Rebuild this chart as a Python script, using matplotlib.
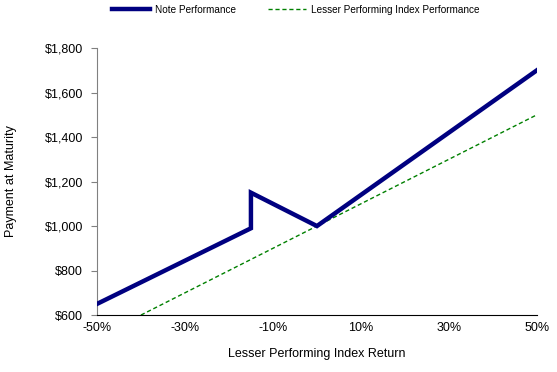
import matplotlib.pyplot as plt
from matplotlib.ticker import FuncFormatter

plt.rcParams['font.family'] = ['Liberation Sans', 'DejaVu Sans']

# Note performance (index return %, payment $)
note_x = [-50, -15, -15, 0, 50]
note_y = [650, 990, 1150, 1000, 1700]
# Lesser performing index performance
index_x = [-40, 50]
index_y = [600, 1500]

x_ticks = [-50, -30, -10, 10, 30, 50]
y_ticks = [600, 800, 1000, 1200, 1400, 1600, 1800]

fig = plt.figure(figsize=(5.57, 3.72), dpi=100)
ax = fig.add_axes([0.174, 0.153, 0.79, 0.718])

ax.plot(note_x, note_y, color="#000080", lw=3.2, label="Note Performance", solid_joinstyle="miter", zorder=3)
ax.plot(index_x, index_y, color="#008000", lw=1.0, ls=(0, (3, 2)), label="Lesser Performing Index Performance", zorder=2)

ax.set_xlim(-50, 50)
ax.set_ylim(600, 1800)
ax.set_xticks(x_ticks)
ax.set_yticks(y_ticks)
ax.xaxis.set_major_formatter(FuncFormatter(lambda v, p: f"{v:.0f}%"))
ax.yaxis.set_major_formatter(FuncFormatter(lambda v, p: f"${v:,.0f}"))
ax.tick_params(axis="x", length=0, labelsize=9, pad=5)
ax.tick_params(axis="y", length=4, labelsize=9, color="#808080", pad=6)
for s in ("top", "right"):
    ax.spines[s].set_visible(False)
ax.spines["left"].set_color("#808080")
ax.spines["bottom"].set_color("black")

ax.set_xlabel("Lesser Performing Index Return", fontsize=9, labelpad=10)
ax.yaxis.set_label_coords(-0.182, 0.5)
ax.set_ylabel("Payment at Maturity", fontsize=9)

fig.legend(loc="upper left", bbox_to_anchor=(0.185, 1.012), ncol=2, frameon=False,
           fontsize=7.2, handlelength=3.8, columnspacing=3.2, handletextpad=0.5)

fig.savefig("out.png", dpi=100, facecolor="white")
